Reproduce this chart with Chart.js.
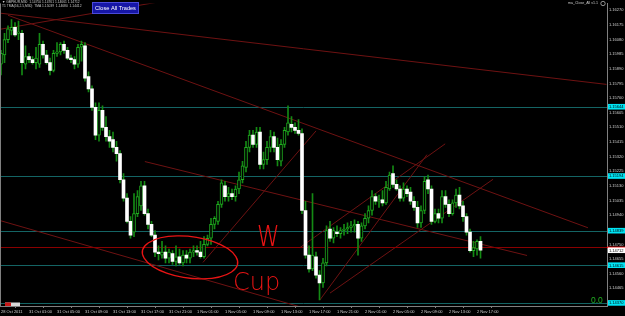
<!DOCTYPE html>
<html>
<head>
<meta charset="utf-8">
<script src="https://cdn.jsdelivr.net/npm/chart.js@4"></script>
<style>
  html, body { margin: 0; padding: 0; background: #000; }
  #myChart { display: block; }
</style>
</head>
<body>
<canvas id="myChart" width="625" height="316"></canvas>
<script>
// M30 candles, 28 Oct 2011 21:00 .. 2 Nov 2011 17:30
const opens = [
  1.1592, 1.1598, 1.1608, 1.1614, 1.1616, 1.1612, 1.1612, 1.1592, 1.1597, 1.1595,
  1.1593, 1.1592, 1.1605, 1.1598, 1.1593, 1.1588, 1.1599, 1.1600, 1.1605, 1.1601,
  1.1596, 1.1595, 1.1592, 1.1603, 1.1604, 1.1584, 1.1576, 1.1564, 1.1546, 1.1562,
  1.1551, 1.1545, 1.1543, 1.1538, 1.1534, 1.1517, 1.1505, 1.1490, 1.1483, 1.1495,
  1.1500, 1.1513, 1.1495, 1.1488, 1.1481, 1.1470, 1.1468, 1.1470, 1.1466, 1.1469,
  1.1464, 1.1467, 1.1463, 1.1468, 1.1466, 1.1470, 1.1471, 1.1470, 1.1467, 1.1475,
  1.1479, 1.1488, 1.1490, 1.1501, 1.1513, 1.1506, 1.1508, 1.1506, 1.1511, 1.1517,
  1.1525, 1.1538, 1.1546, 1.1540, 1.1548, 1.1527, 1.1530, 1.1538, 1.1545, 1.1538,
  1.1529, 1.1540, 1.1548, 1.1553, 1.1551, 1.1549, 1.1547, 1.1497, 1.1468, 1.1459,
  1.1467, 1.1455, 1.1450, 1.1463, 1.1485, 1.1479, 1.1483, 1.1482, 1.1484, 1.1485,
  1.1486, 1.1487, 1.1488, 1.1479, 1.1487, 1.1492, 1.1497, 1.1506, 1.1503, 1.1504,
  1.1502, 1.1511, 1.1521, 1.1514, 1.1511, 1.1505, 1.1511, 1.1509, 1.1503, 1.1499,
  1.1489, 1.1497, 1.1517, 1.1511, 1.1490, 1.1495, 1.1492, 1.1506, 1.1501, 1.1495,
  1.1502, 1.1507, 1.1500, 1.1493, 1.1483, 1.1471, 1.1472, 1.1477
];
const highs = [
  1.1601, 1.1612, 1.1617, 1.1621, 1.1619, 1.1620, 1.1614, 1.1604, 1.1599, 1.1597,
  1.1603, 1.1612, 1.1607, 1.1601, 1.1596, 1.1601, 1.1606, 1.1606, 1.1607, 1.1603,
  1.1598, 1.1597, 1.1605, 1.1607, 1.1606, 1.1587, 1.1578, 1.1567, 1.1567, 1.1565,
  1.1558, 1.1549, 1.1548, 1.1542, 1.1536, 1.1521, 1.1508, 1.1493, 1.1508, 1.1510,
  1.1516, 1.1516, 1.1498, 1.1490, 1.1484, 1.1474, 1.1477, 1.1474, 1.1472, 1.1471,
  1.1474, 1.1472, 1.1471, 1.1471, 1.1472, 1.1474, 1.1474, 1.1477, 1.1480, 1.1481,
  1.1492, 1.1493, 1.1503, 1.1517, 1.1516, 1.1512, 1.1511, 1.1513, 1.1522, 1.1529,
  1.1542, 1.1549, 1.1549, 1.1551, 1.1551, 1.1535, 1.1542, 1.1549, 1.1548, 1.1544,
  1.1543, 1.1551, 1.1565, 1.1558, 1.1554, 1.1556, 1.1550, 1.1503, 1.1474, 1.1508,
  1.1470, 1.1458, 1.1466, 1.1487, 1.1490, 1.1486, 1.1487, 1.1486, 1.1488, 1.1489,
  1.1490, 1.1491, 1.1490, 1.1489, 1.1495, 1.1500, 1.1510, 1.1508, 1.1507, 1.1510,
  1.1516, 1.1522, 1.1526, 1.1517, 1.1513, 1.1515, 1.1513, 1.1512, 1.1506, 1.1503,
  1.1500, 1.1519, 1.1520, 1.1513, 1.1498, 1.1498, 1.1510, 1.1510, 1.1504, 1.1504,
  1.1511, 1.1512, 1.1503, 1.1495, 1.1485, 1.1477, 1.1478, 1.1480
];
const lows = [
  1.1585, 1.1593, 1.1606, 1.1611, 1.1610, 1.1608, 1.1585, 1.1589, 1.1593, 1.1592,
  1.1589, 1.1590, 1.1596, 1.1592, 1.1585, 1.1587, 1.1597, 1.1598, 1.1599, 1.1595,
  1.1593, 1.1589, 1.1590, 1.1594, 1.1581, 1.1574, 1.1562, 1.1543, 1.1542, 1.1549,
  1.1542, 1.1538, 1.1535, 1.1529, 1.1515, 1.1503, 1.1489, 1.1479, 1.1480, 1.1493,
  1.1497, 1.1494, 1.1485, 1.1480, 1.1467, 1.1465, 1.1466, 1.1463, 1.1463, 1.1462,
  1.1461, 1.1462, 1.1461, 1.1463, 1.1463, 1.1467, 1.1468, 1.1466, 1.1466, 1.1474,
  1.1475, 1.1485, 1.1488, 1.1499, 1.1503, 1.1503, 1.1504, 1.1503, 1.1508, 1.1515,
  1.1522, 1.1535, 1.1538, 1.1538, 1.1524, 1.1524, 1.1527, 1.1535, 1.1535, 1.1526,
  1.1526, 1.1538, 1.1546, 1.1548, 1.1547, 1.1546, 1.1495, 1.1466, 1.1457, 1.1458,
  1.1453, 1.1439, 1.1447, 1.1461, 1.1477, 1.1476, 1.1480, 1.1479, 1.1481, 1.1482,
  1.1483, 1.1483, 1.1468, 1.1477, 1.1485, 1.1489, 1.1494, 1.1501, 1.1499, 1.1500,
  1.1501, 1.1510, 1.1512, 1.1510, 1.1503, 1.1503, 1.1506, 1.1501, 1.1497, 1.1486,
  1.1486, 1.1495, 1.1508, 1.1488, 1.1489, 1.1489, 1.1489, 1.1499, 1.1493, 1.1494,
  1.1499, 1.1498, 1.1490, 1.1481, 1.1470, 1.1467, 1.1468, 1.1466
];
const closes = [
  1.1599, 1.1608, 1.1615, 1.1616, 1.1611, 1.1613, 1.1593, 1.1597, 1.1595, 1.1593,
  1.1596, 1.1605, 1.1598, 1.1593, 1.1588, 1.1599, 1.1600, 1.1605, 1.1601, 1.1596,
  1.1595, 1.1592, 1.1603, 1.1605, 1.1583, 1.1576, 1.1564, 1.1546, 1.1562, 1.1551,
  1.1545, 1.1542, 1.1538, 1.1534, 1.1517, 1.1505, 1.1490, 1.1481, 1.1495, 1.1506,
  1.1513, 1.1495, 1.1488, 1.1481, 1.1470, 1.1469, 1.1470, 1.1466, 1.1470, 1.1464,
  1.1467, 1.1463, 1.1468, 1.1466, 1.1470, 1.1471, 1.1470, 1.1467, 1.1475, 1.1479,
  1.1488, 1.1492, 1.1501, 1.1515, 1.1506, 1.1508, 1.1506, 1.1511, 1.1517, 1.1526,
  1.1538, 1.1546, 1.1540, 1.1548, 1.1527, 1.1530, 1.1538, 1.1545, 1.1538, 1.1530,
  1.1540, 1.1549, 1.1554, 1.1551, 1.1549, 1.1547, 1.1497, 1.1468, 1.1459, 1.1468,
  1.1455, 1.1450, 1.1463, 1.1484, 1.1479, 1.1484, 1.1482, 1.1484, 1.1485, 1.1486,
  1.1487, 1.1488, 1.1479, 1.1487, 1.1492, 1.1497, 1.1506, 1.1503, 1.1504, 1.1502,
  1.1512, 1.1520, 1.1514, 1.1511, 1.1505, 1.1511, 1.1508, 1.1503, 1.1499, 1.1489,
  1.1497, 1.1516, 1.1511, 1.1490, 1.1495, 1.1492, 1.1506, 1.1501, 1.1495, 1.1502,
  1.1507, 1.1500, 1.1493, 1.1483, 1.1471, 1.1473, 1.1477, 1.14712
];

// time axis labels and the bar they sit on
const timeTickBars = [0, 8, 16, 24, 32, 40, 48, 56, 64, 72, 80, 88, 96, 104, 112, 120, 128, 136];
const timeLabels = ['28 Oct 2011', '31 Oct 01:00', '31 Oct 05:00', '31 Oct 09:00', '31 Oct 13:00',
  '31 Oct 17:00', '31 Oct 21:00', '1 Nov 01:00', '1 Nov 05:00', '1 Nov 09:00', '1 Nov 13:00',
  '1 Nov 17:00', '1 Nov 21:00', '2 Nov 01:00', '2 Nov 05:00', '2 Nov 09:00', '2 Nov 13:00', '2 Nov 17:00'];

const priceTicks = [1.16270, 1.16175, 1.16080, 1.15985, 1.15890, 1.15795, 1.15700, 1.15605,
  1.15510, 1.15415, 1.15320, 1.15225, 1.15130, 1.15035, 1.14940, 1.14845, 1.14750, 1.14655,
  1.14560, 1.14465, 1.14370];

// horizontal lines drawn on the chart
const levelPrices = [1.15644, 1.15194, 1.14839, 1.14615, 1.14370];
const askPrice = 1.14731;
const bidPrice = 1.14712;

// trend lines: [bar from, price from, bar to, price to, extend right]
const trendLines = [
  [0, 1.16251, 173, 1.15789, 0],
  [2, 1.16238, 167.7, 1.14858, 0],
  [0, 1.16148, 26.3, 1.16251, 1],
  [0, 1.14903, 82.6, 1.14363, 1],
  [41.1, 1.15288, 150.3, 1.14678, 0],
  [57.7, 1.14633, 90, 1.15487, 0],
  [85.4, 1.14729, 126.9, 1.15403, 0],
  [91.1, 1.14389, 121.7, 1.15333, 0],
  [94, 1.14434, 140.6, 1.15173, 0]
];

// hand drawn notes: [bar, price]
const cupCentre = [54, 1.14666];
const cupRadius = [13.7, 0.00135];
const noteW = [73.1, 1.14742];
const noteCup = [66.3, 1.14453];

const isBear = i => closes[i] < opens[i];

const overlay = {
  id: 'overlay',
  beforeDatasetsDraw(chart) {
    const { ctx, chartArea: a, scales: { x, y } } = chart;
    ctx.save();
    ctx.beginPath();
    ctx.rect(a.left, a.top, a.right - a.left, a.bottom - a.top);
    ctx.clip();
    ctx.lineWidth = 1;

    ctx.strokeStyle = '#146464';
    levelPrices.forEach(p => {
      const py = Math.round(y.getPixelForValue(p)) + 0.5;
      ctx.beginPath(); ctx.moveTo(a.left, py); ctx.lineTo(a.right, py); ctx.stroke();
    });

    ctx.strokeStyle = '#6e1212';
    trendLines.forEach(([b1, p1, b2, p2, ray]) => {
      const x1 = x.getPixelForValue(b1), y1 = y.getPixelForValue(p1);
      let x2 = x.getPixelForValue(b2), y2 = y.getPixelForValue(p2);
      if (ray) {
        const k = (y2 - y1) / (x2 - x1);
        y2 = y1 + k * (a.right - x1);
        x2 = a.right;
      }
      ctx.beginPath(); ctx.moveTo(x1, y1); ctx.lineTo(x2, y2); ctx.stroke();
    });

    const ay = Math.round(y.getPixelForValue(askPrice)) + 0.5;
    ctx.strokeStyle = '#8a0000';
    ctx.beginPath(); ctx.moveTo(a.left, ay); ctx.lineTo(a.right, ay); ctx.stroke();
    ctx.restore();
  },
  afterDatasetsDraw(chart) {
    const { ctx, chartArea: a, scales: { x, y } } = chart;
    ctx.save();
    ctx.beginPath();
    ctx.rect(a.left, a.top, a.right - a.left, a.bottom - a.top);
    ctx.clip();

    // the red hand drawn cup
    const cx = x.getPixelForValue(cupCentre[0]);
    const cy = y.getPixelForValue(cupCentre[1]);
    const rx = x.getPixelForValue(cupCentre[0] + cupRadius[0]) - cx;
    const ry = y.getPixelForValue(cupCentre[1] - cupRadius[1]) - cy;
    ctx.strokeStyle = '#e81414';
    ctx.lineWidth = 1.3;
    ctx.beginPath();
    ctx.ellipse(cx, cy, rx, ry, 0.13, -1.9, Math.PI * 2 - 1.6);
    ctx.stroke();

    ctx.fillStyle = '#e81414';
    ctx.textBaseline = 'alphabetic';
    ctx.save();
    ctx.translate(x.getPixelForValue(noteW[0]), y.getPixelForValue(noteW[1]));
    ctx.scale(0.95, 1.3);
    ctx.font = '200 30px "DejaVu Sans"';
    ctx.fillText('w', 0, 0);
    ctx.restore();
    ctx.font = '200 24px "DejaVu Sans"';
    ctx.fillText('Cup', x.getPixelForValue(noteCup[0]), y.getPixelForValue(noteCup[1]));

    ctx.fillStyle = '#22b022';
    ctx.font = '8.5px "Liberation Sans"';
    ctx.fillText('0.0', a.right - 16, a.bottom - 3);

    // small label box, bottom left
    ctx.fillStyle = '#d8d8d8';
    ctx.fillRect(a.left + 5, a.bottom - 3.5, 15, 3.5);
    ctx.fillStyle = '#c81818';
    ctx.fillRect(a.left + 5, a.bottom - 3.5, 6, 3.5);
    ctx.restore();
  },
  afterDraw(chart) {
    const { ctx, chartArea: a, scales: { y } } = chart;
    const w = chart.width;
    ctx.save();

    // frame at the left
    ctx.strokeStyle = '#808080';
    ctx.lineWidth = 1;
    ctx.beginPath(); ctx.moveTo(0.5, a.top); ctx.lineTo(0.5, a.bottom); ctx.stroke();

    // ask line runs into the price scale
    const ay = y.getPixelForValue(askPrice);
    ctx.strokeStyle = '#ff1010';
    ctx.lineWidth = 1.4;
    ctx.beginPath(); ctx.moveTo(a.right, ay); ctx.lineTo(w, ay); ctx.stroke();

    ctx.font = '4px "Liberation Sans"';
    ctx.textBaseline = 'middle';
    ctx.textAlign = 'left';
    levelPrices.forEach(p => {
      const py = y.getPixelForValue(p);
      ctx.fillStyle = '#00e4f4';
      ctx.fillRect(a.right + 1, py - 2.8, w - a.right - 1, 5.6);
      ctx.fillStyle = '#000';
      ctx.fillText(p.toFixed(5), a.right + 2, py + 0.3);
    });
    const by = y.getPixelForValue(bidPrice);
    ctx.fillStyle = '#ffffff';
    ctx.fillRect(a.right + 1, by - 2.8, w - a.right - 1, 5.6);
    ctx.fillStyle = '#000';
    ctx.fillText(bidPrice.toFixed(5), a.right + 2, by + 0.3);

    // header text
    ctx.fillStyle = '#c8c8c8';
    ctx.font = '3.3px "Liberation Sans"';
    ctx.textBaseline = 'top';
    ctx.fillText('\u25BC GBPEUR,M30  1.14750 1.14761 1.14661 1.14712', 2, 0.5);
    ctx.fillText('T1 TMA(56,2.5,M30)  TMA 1.15039  1.14680  1.14412', 2, 4.5);
    ctx.font = '3.6px "Liberation Sans"';
    ctx.fillText('ma_Close_All v1.1', a.right - 39, 1.5);
    ctx.strokeStyle = '#c8c8c8';
    ctx.lineWidth = 0.7;
    ctx.beginPath(); ctx.arc(a.right - 4, 3.5, 2.2, 0, Math.PI * 2); ctx.stroke();

    // Close All Trades button
    ctx.fillStyle = '#1616a6';
    ctx.fillRect(92, 2, 47, 12);
    ctx.strokeStyle = '#4a4ad8';
    ctx.lineWidth = 1;
    ctx.strokeRect(92.5, 2.5, 46, 11);
    ctx.fillStyle = '#ffffff';
    ctx.font = '5.6px "Liberation Sans"';
    ctx.textAlign = 'center';
    ctx.textBaseline = 'middle';
    ctx.fillText('Close All Trades', 115.5, 8.3);
    ctx.restore();
  }
};

Chart.defaults.font.family = '"Liberation Sans", Arial, sans-serif';

const ctx = document.getElementById('myChart').getContext('2d');
const myChart = new Chart(ctx, {
  type: 'bar',
  data: {
    datasets: [{
      label: 'body',
      data: opens.map((o, i) => ({ x: i, y: [o, closes[i]] })),
      grouped: false,
      barThickness: 3,
      minBarLength: 1,
      borderSkipped: false,
      backgroundColor: c => isBear(c.dataIndex) ? '#ffffff' : '#000000',
      borderColor: '#1fae1f',
      borderWidth: c => isBear(c.dataIndex) ? 0 : 1
    }, {
      label: 'wick',
      data: lows.map((l, i) => ({ x: i, y: [l, highs[i]] })),
      grouped: false,
      barThickness: 1,
      borderSkipped: false,
      backgroundColor: '#148a14'
    }]
  },
  options: {
    responsive: false,
    animation: false,
    layout: { padding: 0 },
    plugins: { legend: { display: false }, tooltip: { enabled: false } },
    scales: {
      x: {
        type: 'linear',
        min: -0.286,
        max: 173.14,
        offset: false,
        afterBuildTicks: s => { s.ticks = timeTickBars.map(v => ({ value: v })); },
        afterFit: s => { s.height = 10; },
        grid: { drawOnChartArea: false, drawTicks: true, tickLength: 2, color: '#808080' },
        border: { display: true, color: '#808080' },
        ticks: {
          autoSkip: false, maxRotation: 0, align: 'start', padding: 1,
          color: '#cfcfcf', font: { size: 4 },
          callback: (v, i) => timeLabels[i]
        }
      },
      y: {
        position: 'right',
        min: 1.14350,
        max: 1.16315,
        afterBuildTicks: s => { s.ticks = priceTicks.map(v => ({ value: v })); },
        afterFit: s => { s.width = 18; },
        grid: { drawOnChartArea: false, tickLength: 1, color: '#808080' },
        border: { display: true, color: '#808080' },
        ticks: {
          autoSkip: false, padding: 1, color: '#cfcfcf', font: { size: 4 },
          callback: v => v.toFixed(5)
        }
      }
    }
  },
  plugins: [overlay]
});
</script>
</body>
</html>
